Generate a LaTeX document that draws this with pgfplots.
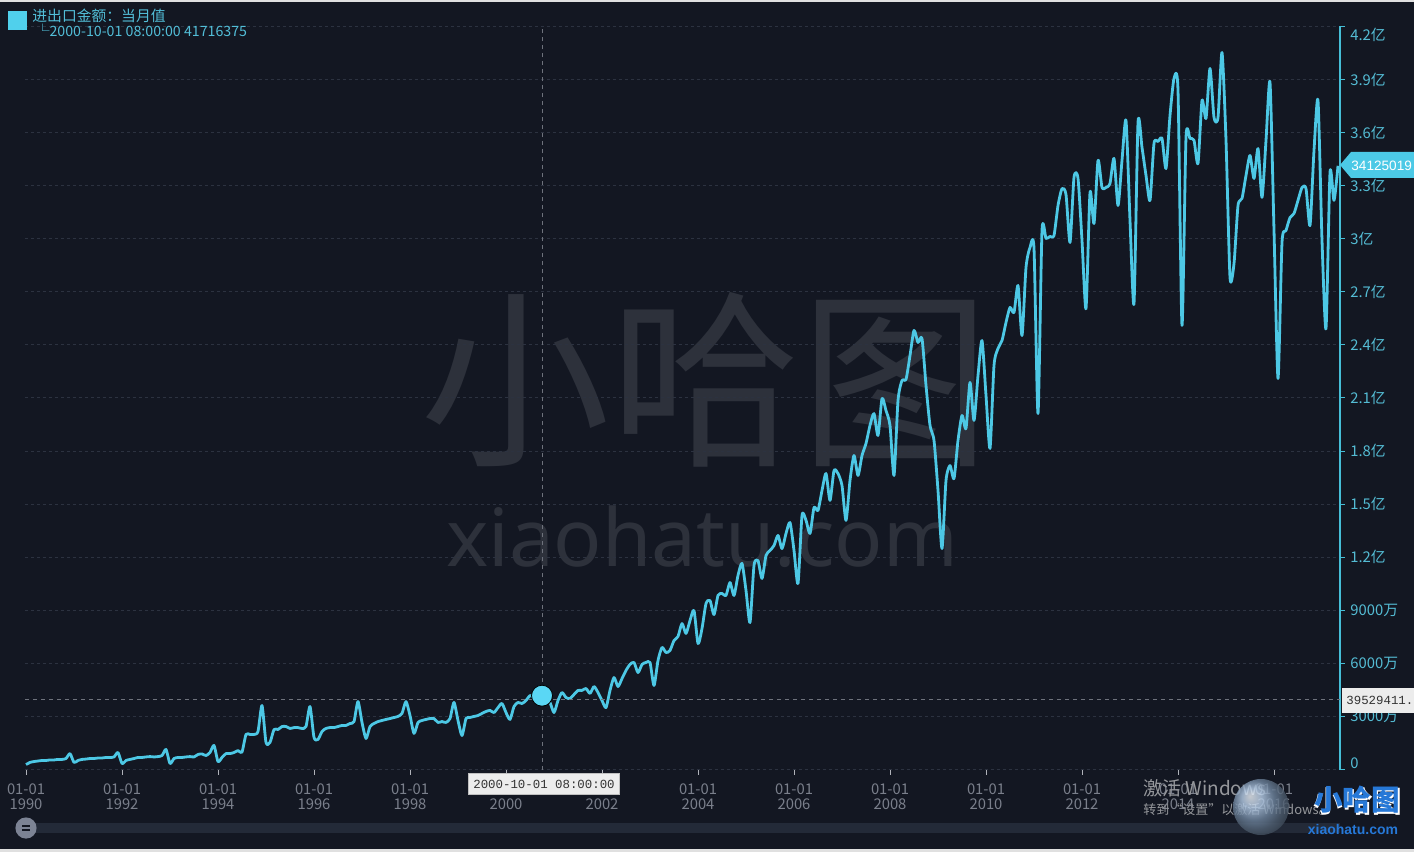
\documentclass[border=0pt]{standalone}
\usepackage{fontspec}
\setmainfont{Noto Sans CJK SC}
\newfontfamily\latinsans{Liberation Sans}
\newfontfamily\monof{Liberation Mono}
\newfontfamily\wmfont{Noto Sans}
\usepackage{pgfplots}
\pgfplotsset{compat=1.18}

\definecolor{bg}{RGB}{19,23,34}
\definecolor{gridc}{RGB}{44,50,64}
\definecolor{linec}{RGB}{77,200,229}
\definecolor{axc}{RGB}{70,190,215}
\definecolor{ylab}{RGB}{84,188,212}
\definecolor{xlab}{RGB}{122,127,139}
\definecolor{wm}{RGB}{45,49,59}
\definecolor{cross}{RGB}{110,114,124}
\definecolor{dotc}{RGB}{90,215,245}
\definecolor{tipbg}{RGB}{236,236,236}
\definecolor{tagc}{RGB}{76,201,230}
\definecolor{legsq}{RGB}{80,208,236}
\definecolor{legtxt}{RGB}{82,190,216}
\definecolor{sbar}{RGB}{35,42,56}
\definecolor{handle}{RGB}{124,131,148}
\definecolor{winc}{RGB}{150,152,156}
\definecolor{logob}{RGB}{40,110,190}
\definecolor{logot}{RGB}{38,120,215}

% image pixel (x from left, y from top) -> picture coordinate
\newcommand{\ip}[2]{({#1*0.5pt},{(852-#2)*0.5pt})}

\begin{document}
\begin{tikzpicture}
\path[use as bounding box, fill=bg] (0,0) rectangle (707pt,426pt);

% watermark
\node[text=wm, font=\fontsize{95}{95}\selectfont, inner sep=0] at \ip{705}{380} {小哈图};
\node[text=wm, font=\wmfont\fontsize{40}{40}\selectfont, inner sep=0] at \ip{702}{537} {xiaohatu.com};

\begin{axis}[
  at={(12.5pt,41.25pt)}, anchor=south west,
  width=657.5pt, height=371.5pt, scale only axis,
  xmin=-0.25, xmax=328.5, ymin=0, ymax=420,
  enlargelimits=false,
  axis x line*=bottom, axis y line*=right,
  x axis line style={draw=none},
  y axis line style={draw=axc, line width=0.7pt},
  tick align=outside, major tick length=2.5pt,
  xtick style={draw=xlab!60, line width=0.5pt},
  ytick style={draw=axc, line width=0.5pt},
  xtick={0,24,...,312},
  xticklabels={01-01\\1990,01-01\\1992,01-01\\1994,01-01\\1996,01-01\\1998,01-01\\2000,01-01\\2002,01-01\\2004,01-01\\2006,01-01\\2008,01-01\\2010,01-01\\2012,01-01\\2014,01-01\\2016},
  xticklabel style={align=center, text=xlab, font=\fontsize{7.4}{7.5}\selectfont, inner sep=1pt, yshift=-3.5pt},
  ytick={0,30,...,420},
  yticklabels={{\raisebox{3.2pt}[\height][\depth]{0}},3000万,6000万,9000万,1.2亿,1.5亿,1.8亿,2.1亿,2.4亿,2.7亿,3亿,3.3亿,3.6亿,3.9亿,{\raisebox{-4.2pt}[\height][\depth]{4.2亿}}},
  yticklabel style={anchor=west, text=ylab, font=\fontsize{7.4}{7.4}\selectfont, inner xsep=0pt, xshift=2.5pt},
  ymajorgrids,
  major grid style={draw=gridc, dash pattern=on 1.5pt off 1.5pt, line width=0.5pt},
]
\addplot[smooth, tension=0.4, line width=1.4pt, color=linec, line join=round] table {
n v
0 2.8
1 4.0
2 4.5
3 4.8
4 5.1
5 5.1
6 5.4
7 5.4
8 5.7
9 5.7
10 6.2
11 9.0
12 4.0
13 5.1
14 5.7
15 5.9
16 6.2
17 6.2
18 6.5
19 6.5
20 6.8
21 6.8
22 7.1
23 9.6
24 3.4
25 5.1
26 5.7
27 6.2
28 6.8
29 6.8
30 7.1
31 7.3
32 7.1
33 7.3
34 7.9
35 11.3
36 3.4
37 6.2
38 6.8
39 6.8
40 7.1
41 7.3
42 7.1
43 8.5
44 8.8
45 7.9
46 9.6
47 13.6
48 4.5
49 6.8
50 9.0
51 9.0
52 9.6
53 10.7
54 9.9
55 19.8
56 19.8
57 19.8
58 21.5
59 36.2
60 15.3
61 15.3
62 22.6
63 22.6
64 24.3
65 24.3
66 23.2
67 23.7
68 23.7
69 23.2
70 24.3
71 35.6
72 18.1
73 17.0
74 21.5
75 23.2
76 23.7
77 23.7
78 24.3
79 24.9
80 24.9
81 26.0
82 27.1
83 38.4
84 26.6
85 17.5
86 24.3
87 26.0
88 27.1
89 27.7
90 28.3
91 28.8
92 29.4
93 30.0
94 31.7
95 38.4
96 30.5
97 20.4
98 26.6
99 27.7
100 28.3
101 28.8
102 28.8
103 26.6
104 27.1
105 26.6
106 28.8
107 37.9
108 27.7
109 19.2
110 28.8
111 29.4
112 30.0
113 30.5
114 31.7
115 32.8
116 33.4
117 32.2
118 35.0
119 37.3
120 32.2
121 28.3
122 35.6
123 37.9
124 37.3
125 39.0
126 41.8
127 40.7
128 39.6
129 41.716375
130 40.1
131 37.9
132 32.2
133 39.0
134 43.5
135 40.7
136 40.1
137 42.4
138 44.7
139 44.7
140 45.8
141 43.0
142 46.9
143 43.5
144 39.0
145 35.0
146 44.7
147 52.0
148 46.9
149 51.4
150 56.0
151 59.4
152 60.5
153 54.8
154 59.4
155 60.5
156 60.5
157 47.5
158 61.6
159 69.0
160 66.1
161 67.3
162 72.9
163 75.2
164 82.5
165 76.9
166 84.2
167 89.9
168 71.2
169 79.7
170 93.8
171 95.5
172 87.6
173 98.4
174 99.5
175 98.4
176 105.7
177 98.4
178 109.7
179 116.5
180 101.2
181 83.1
182 115.3
183 118.1
184 108.0
185 121.0
186 123.8
187 126.6
188 132.3
189 124.9
190 133.4
191 139.6
192 123.8
193 105.1
194 143.6
195 140.8
196 133.4
197 148.1
198 146.4
199 157.7
200 167.3
201 152.1
202 169.0
203 167.3
204 160.5
205 140.8
206 163.4
207 177.5
208 166.2
209 177.5
210 184.3
211 194.5
212 201.2
213 188.8
214 209.7
215 202.9
216 194.5
217 166.2
218 208.6
219 219.9
220 220.5
221 234.0
222 248.2
223 241.4
224 243.6
225 217.1
226 194.5
227 186.0
228 157.7
229 124.9
230 163.4
231 171.8
232 164.5
233 186.0
234 200.1
235 192.8
236 218.8
237 197.3
238 222.7
239 242.5
240 211.4
241 181.5
242 228.4
243 238.0
244 242.5
245 252.7
246 261.2
247 258.3
248 273.6
249 245.3
250 283.8
251 295.1
252 294.5
253 201.2
254 304.7
255 300.2
256 301.3
257 301.9
258 318.8
259 328.4
260 325.0
261 297.9
262 334.7
263 334.1
264 299.0
265 260.6
266 326.2
267 308.6
268 344.3
269 329.0
270 329.0
271 331.3
272 345.4
273 318.8
274 344.3
275 366.9
276 310.3
277 263.4
278 365.7
279 351.6
280 335.8
281 321.7
282 353.9
283 355.0
284 356.7
285 339.7
286 369.7
287 390.6
288 383.8
289 251.0
290 357.3
291 356.7
292 355.6
293 342.6
294 378.2
295 368.0
296 396.3
297 368.6
298 368.6
299 405.3
300 355.6
301 278.1
302 286.0
303 318.8
304 322.8
305 335.8
306 347.1
307 334.1
308 351.0
309 323.4
310 355.6
311 388.4
312 304.7
313 221.0
314 297.9
315 304.7
316 312.0
317 314.3
318 321.7
319 329.0
320 328.4
321 307.5
322 350.0
323 378.2
324 299.0
325 249.3
326 337.5
327 321.7
328 341.25019
};
% crosshair
\draw[cross, dash pattern=on 2pt off 2pt, line width=0.5pt] (axis cs:129,0) -- (axis cs:129,420);
\draw[cross, dash pattern=on 2pt off 2pt, line width=0.5pt] (axis cs:-0.25,39.529411) -- (axis cs:328.5,39.529411);
\addplot[only marks, mark=*, mark size=5.25pt, mark options={fill=dotc, draw=none}] coordinates {(129,41.716375)};
\end{axis}

% last value tag
\fill[tagc] \ip{1340}{165} -- \ip{1351}{152} -- \ip{1420}{152} -- \ip{1420}{178} -- \ip{1351}{178} -- cycle;
\node[anchor=west, text=white, font=\latinsans\fontsize{6.8}{6.8}\selectfont, inner sep=0] at \ip{1351}{165.5} {34125019};

% cursor value boxes
\node[fill=tipbg, draw=black!25, line width=0.4pt, inner xsep=2.5pt, inner ysep=3pt, text=black!80, font=\monof\fontsize{6.2}{6.2}\selectfont] at \ip{544}{784} {2000-10-01 08:00:00};
\node[anchor=west, fill=tipbg, inner xsep=2pt, minimum height=12.5pt, text=black!80, font=\monof\fontsize{6.2}{6.2}\selectfont] at \ip{1342}{700.5} {39529411.};

% legend
\fill[legsq] \ip{7.5}{30.5} rectangle \ip{26.5}{11.5};
\node[anchor=west, text=legtxt, font=\fontsize{7.4}{7.4}\selectfont, inner sep=0] at \ip{32}{16} {进出口金额：当月值};
\node[anchor=west, text=legtxt, font=\fontsize{7.1}{7.1}\selectfont, inner sep=0] at \ip{35}{30.5} {└2000-10-01 08:00:00 41716375};

% data zoom bar
\fill[sbar] \ip{25}{823} rectangle \ip{1340}{833};
\fill[handle] \ip{26}{828} circle (5.3pt);
\draw[bg, line width=0.7pt] \ip{22}{826} -- \ip{30}{826} \ip{22}{830} -- \ip{30}{830};

% windows activation text
\node[anchor=west, text=winc, font=\fontsize{9.5}{9.5}\selectfont, inner sep=0] at \ip{1143}{788} {激活 Windows};
\node[anchor=west, text=winc, font=\fontsize{6.5}{6.5}\selectfont, inner sep=0] at \ip{1143}{810} {转到“设置”以激活 Windows。};

% logo
\shade[ball color=logob!45!white, opacity=0.8] \ip{1261}{807} circle (14pt);
\node[text=white, font=\bfseries\fontsize{14.8}{14.8}\selectfont, inner sep=0] at \ip{1358}{801} {小哈图};
\node[text=logot, font=\bfseries\fontsize{14.3}{14.3}\selectfont, inner sep=0] at \ip{1357}{800} {小哈图};
\node[text=logot, font=\latinsans\bfseries\fontsize{7}{7}\selectfont, inner sep=0] at \ip{1353}{829} {xiaohatu.com};

% screenshot edges
\fill[black!12] \ip{0}{0} rectangle \ip{1414}{2};
\fill[black!12] \ip{0}{849} rectangle \ip{1414}{852};
\end{tikzpicture}
\end{document}
